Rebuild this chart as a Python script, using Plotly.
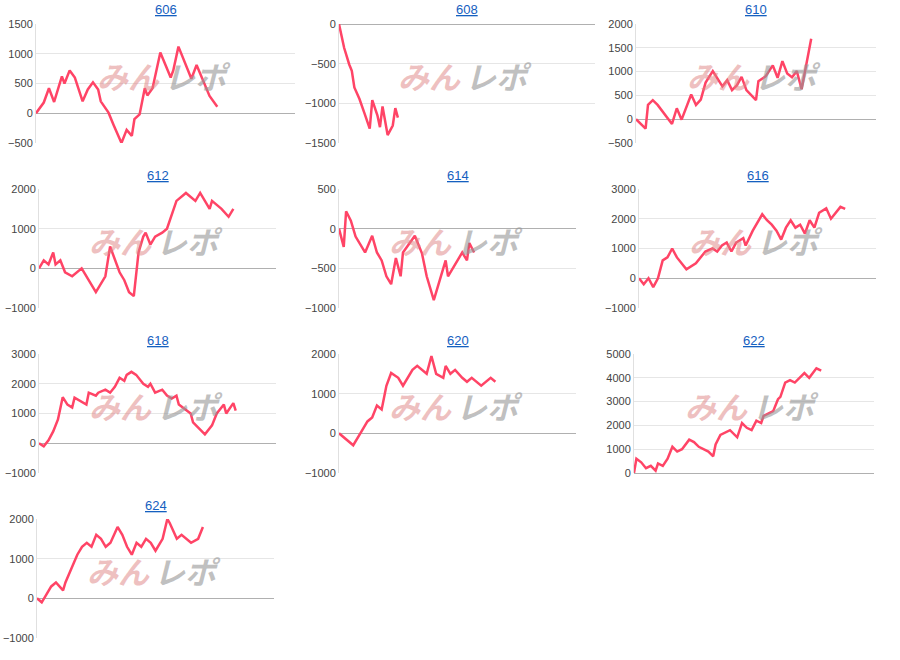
import plotly.graph_objects as go

titles = ["606", "608", "610", "612", "614", "616", "618", "620", "622", "624"]

x606 = [0,3,5,7,10,11,13,15,18,20,22,24,25,28,30,31,33,35,37,38,40,42,43,45,48,52,53,55,56,60,62,63,67,70]
y606 = [0,180,420,190,620,500,720,600,200,400,520,400,200,10,-200,-300,-500,-280,-380,-100,-20,420,300,420,1020,600,720,1120,1010,580,810,700,290,110]
x608 = [0,2,4,5,6,8,10,12,13,15,16,17,19,21,22,23]
y608 = [0,-300,-510,-590,-800,-945,-1130,-1320,-960,-1150,-1300,-1040,-1400,-1280,-1060,-1180]
x610 = [0,2,4,5,7,9,12,15,17,19,23,25,27,29,32,36,38,40,42,44,46,50,51,54,57,59,61,63,65,67,69,73]
y610 = [0,-100,-200,300,400,300,100,-100,230,-10,520,300,410,770,1010,690,820,610,710,890,610,400,800,900,1130,870,1220,960,880,1010,630,1690]
x612 = [0,2,4,6,7,9,11,14,18,24,28,30,34,36,38,40,42,44,45,47,49,52,54,58,62,66,68,72,73,75,77,80,82]
y612 = [0,200,100,400,100,200,-100,-200,0,-600,-200,550,-100,-300,-600,-700,400,800,900,600,800,900,1000,1700,1900,1700,1900,1500,1700,1600,1500,1300,1500]
x614 = [0,2,3,5,7,11,14,16,18,20,22,24,26,27,32,35,37,39,40,45,46,52,54,55,57]
y614 = [0,-230,220,100,-100,-300,-90,-300,-400,-600,-700,-370,-600,-300,-90,-310,-600,-800,-900,-400,-600,-300,-400,-180,-300]
x616 = [0,2,4,6,8,10,12,14,16,20,24,28,31,33,35,37,39,41,44,45,48,50,52,54,56,58,60,62,64,66,68,70,72,74,76,79,81,85,87]
y616 = [0,-200,0,-300,0,600,700,1000,700,300,500,900,1000,900,1100,1200,900,1200,1350,1100,1600,1900,2150,1950,1800,1600,1300,1700,1950,1700,1800,1500,1950,1700,2200,2350,2000,2400,2330]
x618 = [0,2,4,6,8,10,12,14,15,18,20,21,24,25,28,30,32,34,36,37,39,41,44,46,47,49,52,54,56,58,59,64,65,70,72,73,75,78,79,82,83]
y618 = [0,-100,100,400,800,1550,1300,1200,1530,1400,1300,1700,1600,1700,1800,1700,1900,2200,2100,2300,2400,2300,2000,1900,2000,1700,1800,1600,1500,1600,1300,1000,700,300,500,600,1000,1300,1000,1350,1100]
x620 = [0,6,9,12,14,16,18,20,22,25,27,29,31,33,35,37,39,41,44,45,47,49,52,54,56,60,64,66]
y620 = [0,-300,0,300,400,700,600,1200,1520,1400,1200,1400,1600,1700,1600,1500,1950,1500,1400,1700,1500,1600,1400,1300,1400,1200,1400,1300]
x622 = [0,1,3,5,7,9,10,12,14,16,18,20,23,25,27,29,31,33,34,36,40,43,45,47,49,51,53,54,58,60,61,63,65,67,71,73,76,78]
y622 = [0,600,450,200,300,100,400,300,600,1100,900,1000,1400,1300,1100,1000,900,700,1200,1600,1800,1500,2100,1900,1800,2200,2100,2400,2600,3100,3200,3800,3900,3800,4200,4000,4400,4300]
x624 = [0,2,4,6,8,11,12,15,17,19,21,23,25,27,29,31,34,36,38,40,42,44,46,48,50,53,55,56,59,61,63,65,68,70]
y624 = [0,-100,100,300,400,200,400,800,1100,1300,1400,1300,1600,1500,1300,1400,1800,1600,1300,1100,1400,1300,1500,1400,1200,1500,2000,1900,1500,1600,1500,1400,1500,1800]

xs = [x606, x608, x610, x612, x614, x616, x618, x620, x622, x624]
ys = [y606, y608, y610, y612, y614, y616, y618, y620, y622, y624]
yranges = [(-500,1500,500),(-1500,0,500),(-500,2000,500),(-1000,2000,1000),(-1000,500,500),
           (-1000,3000,1000),(-1000,3000,1000),(-1000,2000,1000),(0,5000,1000),(-1000,2000,1000)]

W, H = 900, 660
xspans = [(36, 295), (339, 595), (636, 876),
          (39, 276), (339, 576), (639, 876),
          (39, 276), (339, 576), (634, 874),
          (37, 274)]
rows = [(24, 143), (189, 308), (354, 473), (519, 638)]

def px(v): return v / W
def py(v): return 1 - v / H

fig = go.Figure()
for i in range(10):
    r = i // 3
    x0, x1 = xspans[i]
    y0, y1 = rows[r]
    ax = "" if i == 0 else str(i + 1)
    fig.add_trace(go.Scatter(x=xs[i], y=ys[i], mode="lines", line=dict(color="#ff4466", width=2.5),
                             xaxis="x" + ax, yaxis="y" + ax, showlegend=False, hoverinfo="skip"))
    lo, hi, dt = yranges[i]
    fig.layout["xaxis" + ax] = dict(domain=[px(x0), px(x1)], range=[0, 100], showgrid=False,
                                    showticklabels=False, zeroline=False, anchor="y" + ax,
                                    fixedrange=True, automargin=False)
    fig.layout["yaxis" + ax] = dict(domain=[py(y1), py(y0)], range=[lo, hi], dtick=dt, automargin=False,
                                    showgrid=True, gridcolor="#e6e6e6", zeroline=True, zerolinecolor="#b0b0b0",
                                    zerolinewidth=1, tickfont=dict(size=11, color="#444", family="Arial"),
                                    showline=True, linecolor="#e0e0e0", anchor="x" + ax, ticks="")
    xm = (x0 + x1) / 2
    ym = (y0 + y1) / 2
    fig.add_annotation(text="<u>%s</u>" % titles[i], x=px(xm), y=py(y0 - 14), xref="paper", yref="paper",
                       xanchor="center", yanchor="middle",
                       showarrow=False, font=dict(size=13, color="#1560c0", family="Arial"))
    fig.add_annotation(text="<b><i>みん</i></b>", x=px(xm - 4), y=py(ym - 8), xref="paper", yref="paper",
                       xanchor="right", yanchor="middle",
                       showarrow=False, font=dict(size=31, color="rgba(222,130,130,0.5)", family="Noto Sans CJK JP"))
    fig.add_annotation(text="<b><i>レポ</i></b>", x=px(xm - 4), y=py(ym - 8), xref="paper", yref="paper",
                       xanchor="left", yanchor="middle",
                       showarrow=False, font=dict(size=31, color="rgba(150,150,150,0.6)", family="Noto Sans CJK JP"))

fig.update_layout(width=W, height=H, margin=dict(l=0, r=0, t=0, b=0),
                  plot_bgcolor="white", paper_bgcolor="white")
fig.write_html("out.html", config={"displayModeBar": False},
               post_script="document.body.style.margin='0';document.body.style.overflow='hidden';")
